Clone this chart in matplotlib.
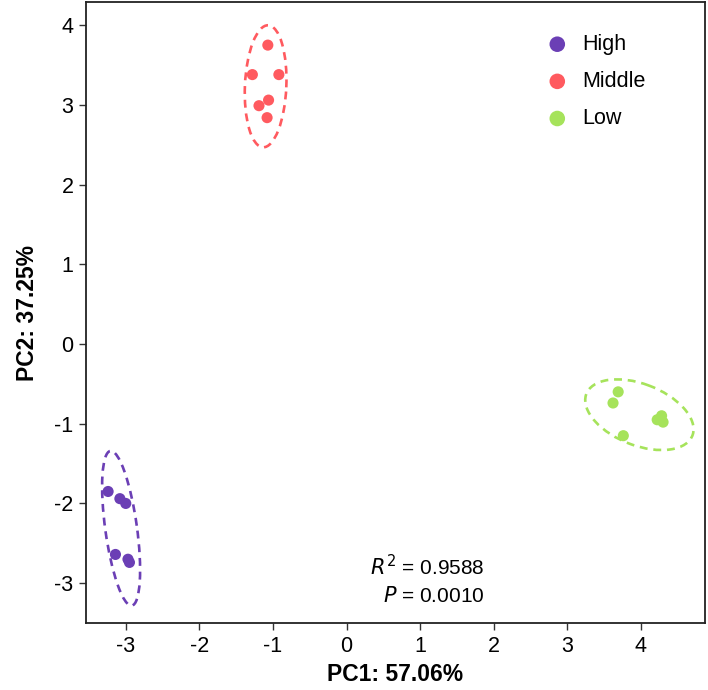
import numpy as np
import matplotlib
matplotlib.use("Agg")
import matplotlib.pyplot as plt
from matplotlib.patches import Ellipse

plt.rcParams['font.family'] = ['Liberation Sans', 'DejaVu Sans']
plt.rcParams['axes.unicode_minus'] = False

groups = ['High', 'Middle', 'Low']
colors = ['#6B3FB5', '#FF5A5F', '#A6E35B']

high_x = [-3.24, -3.08, -3.00, -3.14, -2.97, -2.95]
high_y = [-1.85, -1.94, -2.00, -2.64, -2.70, -2.74]
mid_x = [-1.07, -1.28, -0.92, -1.06, -1.19, -1.08]
mid_y = [3.75, 3.38, 3.38, 3.06, 2.99, 2.84]
low_x = [3.69, 3.62, 4.28, 4.22, 4.30, 3.76]
low_y = [-0.60, -0.74, -0.90, -0.95, -0.98, -1.15]

r2_text = '$\\it{R}^2$ = 0.9588'
p_text = '$\\it{P}$ = 0.0010'


def conf_ellipse(ax, x, y, color, scale=2.3):
    cov = np.cov(x, y)
    vals, vecs = np.linalg.eigh(cov)
    order = vals.argsort()[::-1]
    vals, vecs = vals[order], vecs[:, order]
    angle = np.degrees(np.arctan2(vecs[1, 0], vecs[0, 0]))
    w, h = 2 * scale * np.sqrt(vals)
    e = Ellipse((np.mean(x), np.mean(y)), w, h, angle=angle, fill=False,
                edgecolor=color, lw=1.9, ls=(0, (3, 2.2)))
    ax.add_patch(e)


fig = plt.figure(figsize=(7.08, 6.9), dpi=100)
ax = fig.add_axes([0.1215, 0.0971, 0.8743, 0.8999])

data = [(high_x, high_y), (mid_x, mid_y), (low_x, low_y)]
for (x, y), g, c in zip(data, groups, colors):
    ax.scatter(x, y, s=64, color=c, label=g, edgecolors='none', zorder=3)
    conf_ellipse(ax, x, y, c)

ax.set_xlim(-3.54, 4.87)
ax.set_ylim(-3.5, 4.29)
ax.set_xticks(range(-3, 5))
ax.set_yticks(range(-3, 5))
ax.tick_params(labelsize=15.5, length=5, width=1, color='#333333', pad=4)
for s in ax.spines.values():
    s.set_linewidth(1.3)
    s.set_color('#222222')

ax.set_xlabel('PC1: 57.06%', fontsize=16.5, fontweight='bold', labelpad=5)
ax.set_ylabel('PC2: 37.25%', fontsize=16.5, fontweight='bold', labelpad=11)

ax.text(1.87, -2.79, r2_text, ha='right', va='center', fontsize=15)
ax.text(1.87, -3.16, p_text, ha='right', va='center', fontsize=15)

ax.legend(loc='upper right', frameon=False, fontsize=15.5, markerscale=1.4,
          handlelength=1.0, handletextpad=0.65, labelspacing=0.75,
          bbox_to_anchor=(0.935, 0.98))

fig.savefig('out.png', dpi=100)
